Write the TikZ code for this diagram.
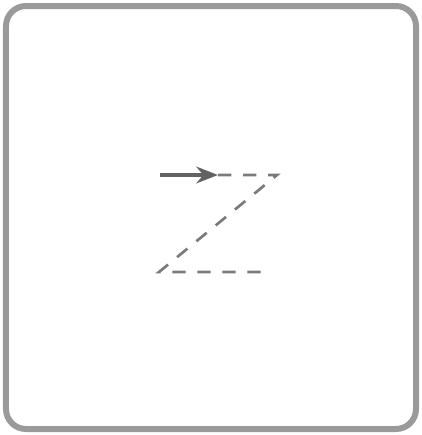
\documentclass[tikz,border=0pt]{standalone}
\usepackage{tikz}
\usetikzlibrary{arrows.meta}
\definecolor{framegray}{HTML}{9A9A9A}
\definecolor{pathgray}{HTML}{7A7A7A}

\begin{document}
\begin{tikzpicture}[x=0.03cm,y=-0.03cm]
  \useasboundingbox (0,0) rectangle (422,435);
  \draw[framegray,line width=0.18cm,rounded corners=0.6cm] (6,6) rectangle (416,429);
  \coordinate (start) at (160,175);
  \coordinate (tip) at (218,175);
  \coordinate (topright) at (277,175);
  \coordinate (botleft) at (159,272);
  \coordinate (botright) at (266,272);
  \draw[pathgray!80!black,line width=0.14cm,-{Stealth[length=0.65cm,width=0.5cm]}] (start) -- (tip);
  \draw[pathgray,line width=0.08cm,dash pattern=on 0.4cm off 0.35cm] (tip) -- (topright) -- (botleft) -- (botright);
\end{tikzpicture}
\end{document}
